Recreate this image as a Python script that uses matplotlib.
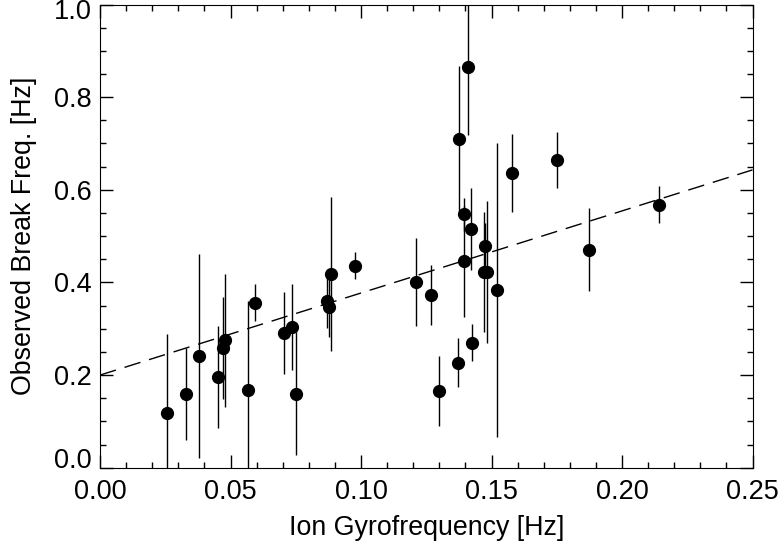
import numpy as np
import matplotlib.pyplot as plt
import matplotlib.transforms as mtransforms
from matplotlib.ticker import MultipleLocator

plt.rcParams['font.family'] = ['Liberation Sans', 'DejaVu Sans']

# ion gyrofrequency [Hz]
gyro = [0.0258, 0.0330, 0.0379, 0.0451, 0.0473, 0.0479, 0.0568, 0.0594,
        0.0706, 0.0734, 0.0750, 0.0868, 0.0876, 0.0885, 0.0977, 0.1210,
        0.1268, 0.1300, 0.1372, 0.1377, 0.1393, 0.1393, 0.1411, 0.1423,
        0.1424, 0.1471, 0.1482, 0.1476, 0.1520, 0.1579, 0.1751, 0.1875,
        0.2143]
# observed break frequency [Hz]
brk = [0.118, 0.159, 0.241, 0.195, 0.259, 0.275, 0.167, 0.356,
       0.291, 0.304, 0.160, 0.359, 0.348, 0.419, 0.436, 0.402,
       0.373, 0.165, 0.227, 0.710, 0.547, 0.446, 0.866, 0.515,
       0.270, 0.423, 0.423, 0.479, 0.384, 0.636, 0.664, 0.471,
       0.568]
brk_err = [0.170, 0.100, 0.220, 0.110, 0.110, 0.144, 0.193, 0.040,
           0.088, 0.093, 0.132, 0.058, 0.065, 0.166, 0.029, 0.095,
           0.064, 0.076, 0.053, 0.157, 0.035, 0.120, 0.148, 0.089,
           0.040, 0.130, 0.153, 0.050, 0.318, 0.085, 0.060, 0.090,
           0.040]

# fitted line
fit_x = [0.0, 0.25]
fit_y = [0.200, 0.643]

fig = plt.figure(figsize=(7.82, 5.45), dpi=100)
ax = fig.add_axes([0.1279, 0.1418, 0.8344, 0.8499])

ax.errorbar(gyro, brk, yerr=brk_err, fmt='o', color='black', ms=8.5,
            ecolor='black', elinewidth=1, capsize=0)
ax.plot(fit_x, fit_y, color='black', lw=1, dashes=(12, 6.5))

ax.set_xlim(0, 0.25)
ax.set_ylim(0, 1.0)
ax.xaxis.set_major_locator(MultipleLocator(0.05))
ax.xaxis.set_minor_locator(MultipleLocator(0.01))
ax.yaxis.set_major_locator(MultipleLocator(0.2))
ax.yaxis.set_minor_locator(MultipleLocator(0.05))
ax.xaxis.set_major_formatter(plt.FormatStrFormatter('%.2f'))
ax.yaxis.set_major_formatter(plt.FormatStrFormatter('%.1f'))

ax.tick_params(which='both', direction='in', top=True, right=True,
               width=1, labelsize=19.5)
ax.tick_params(which='major', length=9.5)
ax.tick_params(which='minor', length=4.5)
ax.tick_params(axis='x', pad=8)
ax.tick_params(axis='y', pad=6)

ax.set_xlabel('Ion Gyrofrequency [Hz]', fontsize=19.3, labelpad=7)
ax.set_ylabel('Observed Break Freq. [Hz]', fontsize=19.3, labelpad=12)

# end labels sit inside the axis range, as in the original
fig.canvas.draw()
up = mtransforms.ScaledTranslation(0, 6 / 100, fig.dpi_scale_trans)
for t in ax.yaxis.get_major_ticks():
    if abs(t.get_loc() - 0.0) < 1e-6:
        t.label1.set_verticalalignment('baseline')
    elif abs(t.get_loc() - 1.0) < 1e-6:
        t.label1.set_verticalalignment('top')
        t.label1.set_transform(t.label1.get_transform() + up)

fig.savefig('out.png', dpi=100)
